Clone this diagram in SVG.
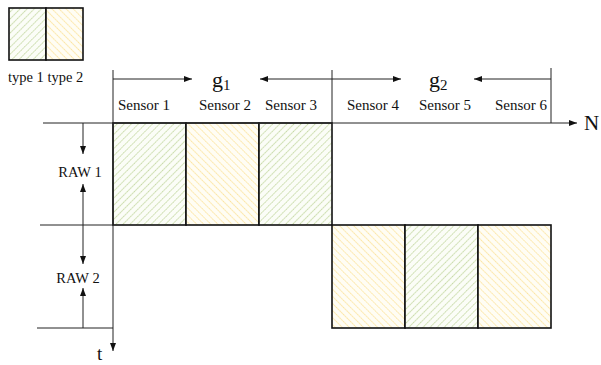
<svg xmlns="http://www.w3.org/2000/svg" width="601" height="365" viewBox="0 0 601 365">
  <style>
    .lbl { font-family: "Liberation Serif", "Times New Roman", serif; fill: #111; }
    .axis { stroke: #222; stroke-width: 1; fill: none; }
    .cell { stroke: #111; stroke-width: 1.6; }
    .t1 { fill: url(#hatch1); }
    .t2 { fill: url(#hatch2); }
  </style>
  <defs>
    <!-- type 1: green diagonal hatch rising to the right -->
    <pattern id="hatch1" patternUnits="userSpaceOnUse" width="5" height="5" patternTransform="rotate(45)">
      <rect width="5" height="5" fill="#fbfdf7"/>
      <line x1="0" y1="0" x2="0" y2="5" stroke="#c3d7a0" stroke-width="1.9" stroke-dasharray="1.5 0.8"/>
    </pattern>
    <!-- type 2: yellow diagonal hatch falling to the right -->
    <pattern id="hatch2" patternUnits="userSpaceOnUse" width="5" height="5" patternTransform="rotate(-45)">
      <rect width="5" height="5" fill="#fffdf4"/>
      <line x1="0" y1="0" x2="0" y2="5" stroke="#fce39a" stroke-width="1.9" stroke-dasharray="1.5 0.8"/>
    </pattern>
    <marker id="arr" viewBox="0 0 8 6" refX="8" refY="3" markerWidth="8" markerHeight="6" markerUnits="userSpaceOnUse" orient="auto">
      <path d="M0,0 L8,3 L0,6 z" fill="#111"/>
    </marker>
  </defs>

  <!-- legend -->
  <g id="legend">
    <rect x="9" y="8" width="37" height="52" class="cell t1"/>
    <rect x="46" y="8" width="37" height="52" class="cell t2"/>
    <text x="8" y="82" class="lbl" font-size="14.5">type 1 type 2</text>
  </g>

  <!-- sensor cells -->
  <g id="raw1-sensor1"><rect x="113" y="123" width="73" height="102" class="cell t1"/></g>
  <g id="raw1-sensor2"><rect x="186" y="123" width="73" height="102" class="cell t2"/></g>
  <g id="raw1-sensor3"><rect x="259" y="123" width="73" height="102" class="cell t1"/></g>
  <g id="raw2-sensor4"><rect x="332" y="225" width="73" height="103" class="cell t2"/></g>
  <g id="raw2-sensor5"><rect x="405" y="225" width="73" height="103" class="cell t1"/></g>
  <g id="raw2-sensor6"><rect x="478" y="225" width="73" height="103" class="cell t2"/></g>

  <!-- axes, guide lines and dimension arrows -->
  <g id="connectors">
    <line x1="43" y1="123" x2="577" y2="123" class="axis" marker-end="url(#arr)"/>
    <line x1="113" y1="70" x2="113" y2="351" class="axis" marker-end="url(#arr)"/>
    <line x1="40" y1="225" x2="113" y2="225" class="axis"/>
    <line x1="37" y1="328" x2="113" y2="328" class="axis"/>
    <line x1="332" y1="70" x2="332" y2="123" class="axis"/>
    <line x1="551" y1="68" x2="551" y2="123" class="axis"/>

    <line x1="113" y1="79" x2="192" y2="79" class="axis" marker-end="url(#arr)"/>
    <line x1="332" y1="79" x2="260" y2="79" class="axis" marker-end="url(#arr)"/>
    <line x1="332" y1="79" x2="401" y2="79" class="axis" marker-end="url(#arr)"/>
    <line x1="551" y1="79" x2="474" y2="79" class="axis" marker-end="url(#arr)"/>

    <line x1="83" y1="123" x2="83" y2="154" class="axis" marker-end="url(#arr)"/>
    <line x1="83" y1="225" x2="83" y2="184" class="axis" marker-end="url(#arr)"/>
    <line x1="83" y1="225" x2="83" y2="264" class="axis" marker-end="url(#arr)"/>
    <line x1="83" y1="328" x2="83" y2="288" class="axis" marker-end="url(#arr)"/>
  </g>

  <!-- labels -->
  <g id="labels">
    <text x="118" y="110" class="lbl" font-size="15">Sensor 1</text>
    <text x="199" y="110" class="lbl" font-size="15">Sensor 2</text>
    <text x="265" y="110" class="lbl" font-size="15">Sensor 3</text>
    <text x="347" y="110" class="lbl" font-size="15">Sensor 4</text>
    <text x="419" y="110" class="lbl" font-size="15">Sensor 5</text>
    <text x="495" y="110" class="lbl" font-size="15">Sensor 6</text>

    <text x="212" y="87" class="lbl" font-size="22">g<tspan font-size="15" dy="3">1</tspan></text>
    <text x="429" y="87" class="lbl" font-size="22">g<tspan font-size="15" dy="3">2</tspan></text>

    <text x="80" y="177" class="lbl" font-size="14.5" text-anchor="middle">RAW 1</text>
    <text x="78" y="283" class="lbl" font-size="14.5" text-anchor="middle">RAW 2</text>

    <text x="584" y="130" class="lbl" font-size="21">N</text>
    <text x="97" y="360" class="lbl" font-size="19">t</text>
  </g>
</svg>
